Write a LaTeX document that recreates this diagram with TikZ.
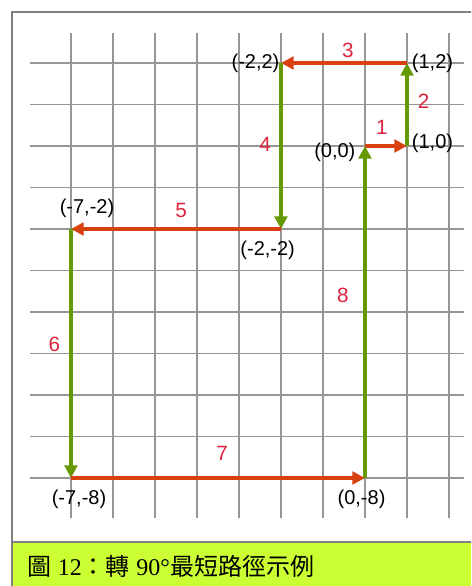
\documentclass[tikz,border=0pt]{standalone}
\usepackage{fontspec}
\setmainfont{Liberation Sans}
\newfontfamily\cjkfont{Noto Sans CJK TC}
\newfontfamily\capdigits{Liberation Serif}
\usetikzlibrary{positioning,arrows.meta}
\definecolor{movered}{RGB}{216,64,16}
\definecolor{movegreen}{RGB}{102,153,0}
\definecolor{numred}{RGB}{220,34,60}
\definecolor{gridgray}{RGB}{150,150,150}
\definecolor{framegray}{RGB}{128,128,128}
\definecolor{capgreen}{RGB}{204,255,51}

\begin{document}
\begin{tikzpicture}[x=31.5pt, y=31.125pt,
    gridline/.style={draw=gridgray, line width=1.1pt},
    hmove/.style={draw=movered, line width=2.4pt, -{Triangle[length=9.5pt, width=9.5pt]}},
    vmove/.style={draw=movegreen, line width=2.4pt, -{Triangle[length=9.5pt, width=9.5pt]}},
    num/.style={text=numred, font=\fontsize{15.5pt}{15.5pt}\selectfont, inner sep=0pt},
    coordlabel/.style={text=black, font=\fontsize{15pt}{15pt}\selectfont, inner sep=0pt}
]
\useasboundingbox (-8.690,3.518) rectangle (2.524,-10.602);
\clip (-8.690,3.518) rectangle (2.524,-10.602);

% frame and caption band
\fill[capgreen] (-8.381,-9.542) rectangle (3,-11);
\draw[framegray, line width=1.5pt] (-8.405,3.229) rectangle (3,-11);
\draw[framegray, line width=1.5pt] (-8.405,-9.542) -- (3,-9.542);
\node[anchor=west, inner sep=0pt, font=\fontsize{18pt}{20pt}\selectfont] (caption) at (-8.05,-10.12)
    {{\cjkfont 圖} {\capdigits 12}{\cjkfont ：轉} {\capdigits 90°}{\cjkfont 最短路徑示例}};

% grid
\foreach \gx in {-7,...,2}
    \draw[gridline] (\gx,2.72) -- (\gx,-8.96);
\foreach \gy in {-8,...,2}
    \draw[gridline] (-7.98,\gy) -- (2.36,\gy);

% corners of the path
\coordinate (a) at (0,0);
\coordinate (b) at (1,0);
\coordinate (c) at (1,2);
\coordinate (d) at (-2,2);
\coordinate (e) at (-2,-2);
\coordinate (f) at (-7,-2);
\coordinate (g) at (-7,-8);
\coordinate (h) at (0,-8);

\draw[hmove] (a) -- node[num, pos=0.4, above=7.5pt] {1} (b);
\draw[vmove] (b) -- node[num, pos=0.54, right=7pt] {2} (c);
\draw[hmove] (c) -- node[num, pos=0.47, above=3pt] {3} (d);
\draw[vmove] (d) -- node[num, pos=0.49, left=6.4pt] {4} (e);
\draw[hmove] (e) -- node[num, pos=0.476, above=7.5pt] {5} (f);
\draw[vmove] (f) -- node[num, pos=0.464, left=7pt] {6} (g);
\draw[hmove] (g) -- node[num, pos=0.514, above=12pt] {7} (h);
\draw[vmove] (h) -- node[num, pos=0.55, left=11pt] {8} (a);

% coordinate labels
\node[coordlabel, left=7pt of a, yshift=-4.5pt] (la) {(0,0)};
\node[coordlabel, right=3.5pt of b, yshift=2pt] (lb) {(1,0)};
\node[coordlabel, right=3.5pt of c] (lc) {(1,2)};
\node[coordlabel, left=1pt of d] (ld) {(-2,2)};
\node[coordlabel, below=8.5pt of e, xshift=-10pt] (le) {(-2,-2)};
\node[coordlabel, above=8.5pt of f, xshift=12pt] (lf) {(-7,-2)};
\node[coordlabel, below=8.5pt of g, xshift=6pt] (lg) {(-7,-8)};
\node[coordlabel, below=8.5pt of h, xshift=-2.6pt] (lh) {(0,-8)};
\end{tikzpicture}
\end{document}
